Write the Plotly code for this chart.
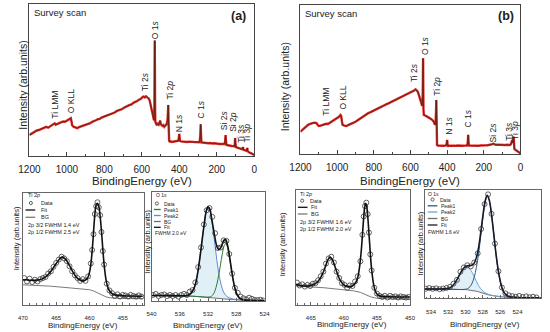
import plotly.graph_objects as go

W, H = 550, 332
FONT = "Arial, Liberation Sans, sans-serif"

# ---------------- DATA ----------------
# Survey scan (a)
survey_a_be = [1200,1190,1180,1170,1160,1150,1140,1130,1120,1110,1100,1090,1080,1070,1065,1060,1050,1040,1030,1020,1010,1000,992,985,979,975,972,965,955,945,935,925,915,905,895,885,875,865,855,845,835,825,815,805,795,785,775,765,755,745,735,725,715,705,695,685,675,665,655,645,635,625,615,605,595,590,585,578,570,563,558,553,548,543,538,535,533,532,531,530,529,528,525,520,515,510,505,502,499,495,490,485,480,475,470,466,463,461,460,459,458,457,456,455,454,450,445,440,430,420,410,405,402,400,398,396,390,380,370,360,350,340,330,320,310,300,292,288,286,284,282,275,265,255,245,235,225,215,205,195,185,175,165,158,155,153,151,148,140,130,120,110,105,103,102,100,98,90,80,70,62,60,58,52,45,40,37,35,30,22,15,8,0]
survey_a_int = [13.8,14.6,15.5,15.9,16.8,17.1,17.6,18.5,18.9,19.2,18.6,19.6,20.0,21.0,21.5,20.6,21.2,21.8,22.1,22.7,22.5,23.2,23.9,24.4,24.9,22.5,20.2,19.3,18.6,18.3,19.0,19.4,19.9,20.0,20.6,21.0,21.6,22.5,22.8,23.5,24.2,24.4,25.3,25.8,26.0,26.4,27.3,27.6,28.4,28.6,29.5,29.9,30.4,30.9,31.8,32.2,33.0,33.6,34.0,35.0,35.4,36.2,37.0,37.6,38.9,39.1,38.6,39.3,38.4,37.8,36.5,34.0,31.2,28.0,25.2,23.5,30.0,55.0,75.9,58.0,30.0,22.5,21.0,20.3,21.2,20.6,22.2,23.3,21.0,20.4,19.8,20.3,19.2,19.9,20.5,21.8,23.5,27.0,31.0,33.6,27.0,20.4,15.0,11.5,9.9,9.4,9.6,9.2,9.5,9.4,9.8,10.0,12.5,14.5,11.5,9.9,9.6,9.4,9.6,9.2,9.4,9.1,9.3,9.2,9.0,8.9,9.0,13.0,20.9,14.0,9.0,8.8,8.6,8.7,8.4,8.5,8.2,8.4,8.0,8.1,7.9,8.0,7.8,7.9,10.0,13.8,10.0,7.3,7.0,6.8,6.6,6.5,6.3,9.0,11.8,8.0,5.8,5.4,4.9,4.6,4.3,5.9,4.2,3.9,3.5,3.4,5.3,3.2,2.6,2.0,1.4,1.0,0.7]

# Survey scan (b)
survey_b_be = [1200,1190,1180,1170,1160,1150,1140,1130,1120,1112,1105,1100,1090,1080,1070,1060,1050,1040,1030,1020,1010,1000,990,982,978,974,970,960,950,940,930,920,910,900,890,880,870,860,850,840,830,820,810,800,790,780,770,760,750,740,730,720,710,700,690,680,670,660,650,640,630,620,610,600,590,580,572,566,560,555,550,545,540,536,533,532,531,530,529,527,522,516,510,500,490,480,472,466,463,461,460,459,458,457,456,455,450,440,430,420,410,404,402,400,398,396,385,375,365,355,345,335,325,315,305,298,290,287,285,283,281,270,260,250,240,230,220,210,200,190,180,170,160,152,148,144,135,125,115,105,95,85,75,65,58,52,47,45,42,39,37,35,33,28,22,15,10,5,0]
survey_b_int = [15.0,16.2,17.5,18.6,19.4,20.1,20.6,20.9,21.0,20.6,19.3,18.8,19.0,19.5,19.9,20.3,20.1,20.9,21.6,22.3,23.0,24.0,25.0,26.2,25.5,22.0,19.5,19.0,18.8,19.4,19.8,20.3,21.0,21.7,22.6,23.4,24.2,25.1,26.2,26.5,27.4,27.9,28.6,29.1,29.8,30.3,30.9,31.6,32.2,32.6,33.5,34.0,34.6,35.1,35.9,36.3,37.1,37.7,38.5,38.9,39.6,40.1,40.6,41.1,41.8,42.6,43.4,42.5,41.8,40.0,38.2,36.2,34.0,32.2,40.0,52.0,64.2,45.0,30.0,26.2,26.0,25.4,25.0,24.4,23.6,22.8,21.5,19.5,21.0,24.2,30.0,36.2,28.0,19.5,10.0,6.0,5.6,5.4,5.6,5.5,5.7,5.9,7.5,9.4,7.0,5.4,5.5,5.4,5.6,5.5,5.7,5.5,5.6,5.5,5.6,5.5,5.8,8.5,12.8,8.0,5.6,5.6,5.5,5.7,5.6,5.5,5.7,5.6,5.6,5.8,5.9,6.0,6.2,6.6,6.9,6.5,6.2,6.3,6.1,6.0,6.1,6.0,6.2,6.0,6.0,6.5,8.5,9.4,7.5,8.5,11.6,8.0,3.4,2.8,2.2,1.8,1.5,1.0,0.5]

survey_labels = ["Ti LMM", "O KLL", "Ti 2<i>s</i>", "O 1<i>s</i>", "Ti 2<i>p</i>", "N 1<i>s</i>", "C 1<i>s</i>", "Si 2<i>s</i>", "Si 2<i>p</i>", "Ti 3<i>s</i>", "Ti 3<i>p</i>"]
survey_a_label_be = [1065, 974, 582, 528, 452, 401, 282, 160, 114, 72, 36]
survey_a_label_int = [33.6, 35.9, 48.7, 82.9, 43.4, 21.7, 30.9, 23.7, 22.4, 15.1, 15.1]
survey_b_labels = ["Ti LMM", "O KLL", "Ti 2<i>s</i>", "O 1<i>s</i>", "Ti 2<i>p</i>", "N 1<i>s</i>", "C 1<i>s</i>", "Si 2<i>s</i>", "Ti 3<i>s</i>", "Ti 3<i>p</i>"]
survey_b_label_be = [1061, 973, 580, 520, 457, 391, 289, 150, 66, 30]
survey_b_label_int = [35.1, 37.9, 54.4, 72.5, 45.6, 18.8, 24.2, 14.4, 15.1, 16.1]

# Ti 2p (a)
ti_a_data_be = [469.8,469.4,469.0,468.6,468.2,467.8,467.4,467.0,466.6,466.2,465.8,465.4,465.0,464.6,464.2,463.8,463.4,463.0,462.6,462.2,461.8,461.4,461.0,460.6,460.2,459.8,459.6,459.4,459.2,459.0,458.8,458.6,458.4,458.2,458.0,457.8,457.4,457.0,456.6,456.2,455.8,455.4,455.0,454.6,454.2,453.8,453.4,453.0,452.6,452.2]
ti_a_data_int = [24,21,23.5,20.5,22.5,21,23,24,25,28,30,34,37.5,40.5,43,41.5,39,34.5,30,26.5,24,21.5,23,21.5,25.5,37,49,63,81,88,91.5,87,80,65,48,36,19,13,10.5,8,9.5,7.5,9,8.5,7.5,9,8,7.5,8.5,7.5]
ti_a_fit_be = [470,469.5,469,468.5,468,467.5,467,466.5,466,465.5,465,464.5,464.2,464,463.5,463,462.5,462,461.5,461,460.5,460.2,460,459.8,459.6,459.4,459.2,459.0,458.8,458.6,458.4,458.2,458.0,457.8,457.5,457.2,456.8,456.3,455.5,455,454,452]
ti_a_fit_int = [22.5,22.5,22,22,22,22.5,23.5,25.5,28.5,32.5,37,41,42.5,42.5,40,35,29.5,25,22.5,21.5,22.5,25,29,36,48,64,80,89,90.5,88,79,66,50,36,22,15,11,9.2,8.5,8.3,8,7.8]
ti_a_bg_be = [470,468,466,464,462,461,460,459.5,459,458.5,458,457.5,457,456,455,452]
ti_a_bg_int = [18,17.5,16.8,15.8,14.8,14.3,13.6,12.8,11.5,9.8,8.3,7.2,6.5,6.0,5.8,5.6]

# Ti 2p (b)
ti_b_data_be = [467.1,466.7,466.3,465.9,465.5,465.1,464.7,464.3,463.9,463.5,463.1,462.7,462.3,461.9,461.5,461.1,460.7,460.3,459.9,459.5,459.1,458.7,458.3,457.9,457.5,457.2,457.0,456.8,456.6,456.4,456.2,456.0,455.8,455.4,455.0,454.6,454.2,453.8,453.4,453.0,452.6,452.2,451.8,451.4,451.0,450.6,450.2]
ti_b_data_int = [19.5,17,18,16,17.5,16.5,18.5,19,21.5,25,29,36,40.5,42,37,29,23.5,19,17.5,15,17,16.5,20.5,25,38,61,77,86,89,79,63,44,30,15,10,8,7,8,6.5,8,7,7.5,6.5,7.5,7,6.5,7]
ti_b_fit_be = [467.25,467,466.5,466,465.5,465,464.5,464,463.5,463,462.7,462.4,462.1,461.8,461.5,461.2,460.9,460.5,460,459.5,459,458.5,458,457.7,457.4,457.2,457.0,456.85,456.7,456.55,456.4,456.2,456.0,455.8,455.5,455.2,454.8,454.3,453,450]
ti_b_fit_int = [18,17.5,17,16.5,16.5,17,18,20,24,30,35,39.5,41.5,40,36,31,26,21,17.5,16,16,17.5,22,30,45,60,76,85,88.5,86,78,62,45,31,18,11.5,8.5,7.5,7.2,7]
ti_b_bg_be = [467.25,465,463,461,459.5,458.5,457.5,457,456.5,456,455.5,455,453,450]
ti_b_bg_int = [16.5,15.8,15,13.8,13,12.3,11,10,8.5,7.2,6.2,5.8,5.3,5]

# O 1s (a)
o_a_be = [540,539,538,537,536,535.5,535,534.5,534,533.75,533.5,533.25,533,532.75,532.5,532.25,532,531.75,531.5,531.25,531,530.75,530.5,530.25,530,529.75,529.5,529.25,529,528.75,528.5,528.25,528,527.75,527.5,527,526.5,526,525,524]
o_a_bg = [5,5,5,4.9,4.8,4.7,4.6,4.45,4.3,4.2,4.1,4.0,3.9,3.8,3.65,3.5,3.4,3.25,3.1,2.95,2.8,2.6,2.45,2.3,2.1,1.9,1.75,1.6,1.4,1.3,1.15,1.0,0.9,0.8,0.7,0.6,0.45,0.4,0.35,0.3]
o_a_peak2 = [5,5,5,4.9,4.8,4.8,5.1,6.5,11.5,16.5,24.5,35,47.5,60.5,72.5,82.5,86,83.5,74.5,63,50,37,26,17.5,11.5,7.5,5.2,3.8,2.9,2.3,1.9,1.6,1.4,1.2,1.1,0.9,0.7,0.6,0.45,0.35]
o_a_peak1 = [5,5,5,4.9,4.8,4.7,4.6,4.45,4.3,4.2,4.1,4.0,3.9,3.8,3.65,3.55,3.6,3.8,4.5,6.3,9.8,15.5,23.5,33,42.5,50,52.5,49,41,30.5,20.5,12.5,7,3.9,2.2,0.9,0.5,0.4,0.35,0.3]
o_a_fit = [5,5,5,4.9,4.8,4.8,5.1,6.5,11.5,16.5,24.5,35,47.5,60.5,72.5,82.6,86.2,84,75.9,66.4,57,49.9,47.1,48.2,51.9,55.6,56,51.2,42.5,31.5,21.3,13.1,7.5,4.3,2.6,1.2,0.75,0.6,0.45,0.35]
o_a_data_be = [539.8,539.4,539.0,538.6,538.2,537.8,537.4,537.0,536.6,536.2,535.8,535.4,535.0,534.6,534.2,533.8,533.4,533.0,532.6,532.2,531.8,531.4,531.0,530.6,530.2,529.8,529.4,529.0,528.6,528.2,527.8,527.4,527.0,526.6,526.2,525.8,525.4,525.0,524.6,524.2]
o_a_data_int = [5.5,6.5,4.5,5.5,6,4.5,5.5,4.5,5.5,4,5.5,6.5,5.5,8.5,10,17,31,49,70,83,85,77,62,48.5,49,55.5,55,43,25,12,7.5,4,2.5,1.5,3,2,1,0.8,1.2,0.5]

# O 1s (b)
o_b_be = [534.75,534,533,532.5,532,531.75,531.5,531.25,531,530.75,530.5,530.25,530,529.75,529.5,529.25,529,528.75,528.5,528.25,528,527.75,527.5,527.25,527,526.75,526.5,526.25,526,525.75,525.5,525,524,523,521.3]
o_b_bg = [8.6,8.6,8.5,8.5,8.4,8.4,8.3,8.3,8.2,8.2,8.1,8.1,8.0,7.8,7.6,7.3,7.0,6.5,6.0,5.2,4.5,4.0,3.5,3.0,2.5,2.2,1.9,1.7,1.5,1.3,1.1,0.8,0.6,0.5,0.5]
o_b_peak1 = [8.6,8.6,8.5,8.5,8.4,8.4,8.3,8.3,8.2,8.2,8.1,8.2,8.4,9.0,10.6,13.9,19.5,28.5,41,57,74,88,94.5,90,77,60,42,27,16,8.5,4.5,1.5,0.7,0.5,0.5]
o_b_peak2 = [8.6,8.6,8.6,8.7,9.2,10.0,11.6,14.0,17.2,21.0,24.6,27.4,29.0,28.8,27.0,24.0,20.0,15.6,11.8,8.8,6.6,5.2,4.2,3.4,2.8,2.4,2.1,1.9,1.7,1.5,1.3,1.0,0.7,0.5,0.5]
o_b_fit = [8.6,8.6,8.6,8.7,9.2,10.0,11.6,14.0,17.2,21.0,24.6,27.5,29.4,30.0,30.0,30.6,32.5,37.6,46.8,60.6,76.1,89.2,95.2,90.4,77.3,60.2,42.2,27.2,16.2,8.7,4.7,1.7,0.8,0.5,0.5]
o_b_data_be = [534.6,534.2,533.8,533.4,533.0,532.6,532.2,531.8,531.4,531.0,530.6,530.2,529.8,529.4,529.0,528.6,528.2,527.8,527.4,527.0,526.6,526.2,525.8,525.4,525.0,524.6,524.2,523.8,523.4,523.0,522.6,522.2,521.8]
o_b_data_int = [8.9,9.5,8.8,9.2,8.4,9.0,9.6,10.5,13.5,17.0,24.5,28.5,30.5,29.5,33.0,41.5,64.0,87.0,96.0,78.0,50.5,25.0,10.0,4.5,2.8,2.0,1.5,2.2,1.2,1.8,1.0,1.5,0.8]

# ---------------- FIGURE ----------------
def fx(p): return p / W
def fy(p): return 1 - p / H

fig = go.Figure()

BROWN = "#5e2410"
RED = "#e32626"

def add_survey(be, inten, ax):
    fig.add_trace(go.Scatter(x=be, y=inten, mode="lines", line=dict(color=RED, width=2.4),
                             xaxis="x" + ax, yaxis="y" + ax, hoverinfo="skip"))
    fig.add_trace(go.Scatter(x=be, y=inten, mode="lines", line=dict(color=BROWN, width=0.9),
                             xaxis="x" + ax, yaxis="y" + ax, hoverinfo="skip"))

add_survey(survey_a_be, survey_a_int, "")
add_survey(survey_b_be, survey_b_int, "2")

DATA_MK = dict(symbol="circle-open", size=5, color="#3a3a3a", line=dict(width=0.8, color="#3a3a3a"))

# Ti 2p (a)
fig.add_trace(go.Scatter(x=ti_a_bg_be, y=ti_a_bg_int, mode="lines", line=dict(color="#7a7a7a", width=1), xaxis="x3", yaxis="y3"))
fig.add_trace(go.Scatter(x=ti_a_data_be, y=ti_a_data_int, mode="markers", marker=DATA_MK, xaxis="x3", yaxis="y3"))
fig.add_trace(go.Scatter(x=ti_a_fit_be, y=ti_a_fit_int, mode="lines", line=dict(color="#111111", width=1.6, shape="spline"), xaxis="x3", yaxis="y3"))

# O 1s (a)
fig.add_trace(go.Scatter(x=o_a_be, y=o_a_bg, mode="lines", line=dict(color="#6e6e6e", width=1), xaxis="x4", yaxis="y4"))
fig.add_trace(go.Scatter(x=o_a_be, y=o_a_peak2, mode="lines", line=dict(color="#5b8bd8", width=1, shape="spline"),
                         fill="tonexty", fillcolor="rgba(200,228,240,0.55)", xaxis="x4", yaxis="y4"))
fig.add_trace(go.Scatter(x=o_a_be, y=o_a_peak1, mode="lines", line=dict(color="#2f7a35", width=1, shape="spline"), xaxis="x4", yaxis="y4"))
fig.add_trace(go.Scatter(x=o_a_data_be, y=o_a_data_int, mode="markers", marker=DATA_MK, xaxis="x4", yaxis="y4"))
fig.add_trace(go.Scatter(x=o_a_be, y=o_a_fit, mode="lines", line=dict(color="#111111", width=1.6, shape="spline"), xaxis="x4", yaxis="y4"))

# Ti 2p (b)
fig.add_trace(go.Scatter(x=ti_b_bg_be, y=ti_b_bg_int, mode="lines", line=dict(color="#7a7a7a", width=1), xaxis="x5", yaxis="y5"))
fig.add_trace(go.Scatter(x=ti_b_data_be, y=ti_b_data_int, mode="markers", marker=DATA_MK, xaxis="x5", yaxis="y5"))
fig.add_trace(go.Scatter(x=ti_b_fit_be, y=ti_b_fit_int, mode="lines", line=dict(color="#111111", width=1.6, shape="spline"), xaxis="x5", yaxis="y5"))

# O 1s (b)
fig.add_trace(go.Scatter(x=o_b_be, y=o_b_bg, mode="lines", line=dict(color="#6e6e6e", width=1), xaxis="x6", yaxis="y6"))
fig.add_trace(go.Scatter(x=o_b_be, y=o_b_peak2, mode="lines", line=dict(color="#6aa6dc", width=1, shape="spline"),
                         fill="tonexty", fillcolor="rgba(200,228,240,0.55)", xaxis="x6", yaxis="y6"))
fig.add_trace(go.Scatter(x=o_b_be, y=o_b_peak1, mode="lines", line=dict(color="#2c5a86", width=1, shape="spline"), xaxis="x6", yaxis="y6"))
fig.add_trace(go.Scatter(x=o_b_data_be, y=o_b_data_int, mode="markers", marker=DATA_MK, xaxis="x6", yaxis="y6"))
fig.add_trace(go.Scatter(x=o_b_be, y=o_b_fit, mode="lines", line=dict(color="#1a1a2a", width=1.6, shape="spline"), xaxis="x6", yaxis="y6"))

# ---------------- AXES ----------------
def xax(dom, rng, dtick, fs, minor_dtick, tickvals=None, lc="#444", ticklen=4, standoff=4):
    d = dict(domain=dom, range=rng, showline=True, mirror=True, linecolor=lc, linewidth=1,
             ticks="inside", ticklen=ticklen, tickcolor=lc, tickwidth=1, showgrid=False, zeroline=False,
             ticklabelstandoff=standoff,
             tickfont=dict(family=FONT, size=fs, color="#222"),
             minor=dict(dtick=minor_dtick, ticks="inside", ticklen=ticklen * 0.55, tickcolor=lc))
    if tickvals is not None:
        d["tickvals"] = tickvals
    else:
        d["dtick"] = dtick
    return d

def yax(dom, xa, lc="#444"):
    return dict(domain=dom, range=[0, 100], anchor=xa, showline=True, mirror=True, linecolor=lc,
                linewidth=1, showticklabels=False, ticks="", showgrid=False, zeroline=False)

def dom_x(a, b): return [fx(a), fx(b)]
def dom_y(top, bot): return [fy(bot), fy(top)]

layout = dict(
    width=W, height=H, autosize=False, margin=dict(l=0, r=0, t=0, b=0),
    paper_bgcolor="white", plot_bgcolor="white", showlegend=False,
    font=dict(family=FONT, color="#222"),
)
layout["xaxis"] = xax(dom_x(19, 251), [1200, 0], 200, 10, 100, ticklen=4, standoff=4) | dict(anchor="y")
layout["yaxis"] = yax(dom_y(4, 156), "x")
layout["xaxis2"] = xax(dom_x(298.7, 525.7), [1200, 0], 200, 10, 100, ticklen=4, standoff=4) | dict(anchor="y2")
layout["yaxis2"] = yax(dom_y(5, 154), "x2")
layout["xaxis3"] = xax(dom_x(12.3, 137.3), [470, 451.8], 5, 6, 1, lc="#666", ticklen=3, standoff=7) | dict(anchor="y3")
layout["yaxis3"] = yax(dom_y(192.7, 305), "x3", lc="#666")
layout["xaxis4"] = xax(dom_x(145, 261.7), [540, 524], 4, 6, 1, lc="#666", ticklen=3, standoff=7) | dict(anchor="y4")
layout["yaxis4"] = yax(dom_y(191.7, 301), "x4", lc="#666")
layout["xaxis5"] = xax(dom_x(294, 411.7), [467.25, 450], 5, 6, 1, lc="#666", ticklen=3, standoff=7) | dict(anchor="y5")
layout["yaxis5"] = yax(dom_y(190, 305), "x5", lc="#666")
layout["xaxis6"] = xax(dom_x(426.7, 546.7), [534.75, 521.3], 2, 6, 0.5, tickvals=[534, 532, 530, 528, 526, 524], lc="#666", ticklen=3, standoff=7) | dict(anchor="y6")
layout["yaxis6"] = yax(dom_y(190, 298.3), "x6", lc="#666")
fig.update_layout(**layout)

ann = []
shapes = []

def txt(x, y, s, size, xanchor="center", angle=0, bold=False, color="#222"):
    if bold:
        s = "<b>" + s + "</b>"
    ann.append(dict(x=fx(x), y=fy(y), xref="paper", yref="paper", text=s, showarrow=False,
                    xanchor=xanchor, yanchor="middle", textangle=angle,
                    font=dict(family=FONT, size=size, color=color)))

# peak labels in data coordinates
for lab, xv, yv in zip(survey_labels, survey_a_label_be, survey_a_label_int):
    ann.append(dict(x=xv, y=yv, xref="x", yref="y", text=lab, showarrow=False, textangle=-90,
                    font=dict(family=FONT, size=8.5, color="#222")))
for lab, xv, yv in zip(survey_b_labels, survey_b_label_be, survey_b_label_int):
    ann.append(dict(x=xv, y=yv, xref="x2", yref="y2", text=lab, showarrow=False, textangle=-90,
                    font=dict(family=FONT, size=8.5, color="#222")))

# survey titles
txt(22, 12, "Survey scan", 9.5, xanchor="left")
txt(301, 13, "Survey scan", 9.5, xanchor="left")
txt(235, 16, "(a)", 12.5, bold=True)
txt(510.5, 16, "(b)", 12.5, bold=True)
txt(12, 85, "Intensity (arb.units)", 10.5, angle=-90)
txt(283, 87, "Intensity (arb.units)", 10.5, angle=-90)
txt(135, 181, "BindingEnergy (eV)", 11.5)
txt(412, 181, "BindingEnergy (eV)", 11.5)

# bottom axis titles
for (xt, yt) in [(74, 325), (203, 325), (352, 324), (489, 324)]:
    txt(xt, yt, "BindingEnergy (eV)", 8)
for (xt, yt) in [(5.5, 238), (140, 242), (280, 244), (422.5, 243)]:
    txt(xt, yt, "Intensity (arb.units)", 7.5, angle=-90)

# ---- inset legends ----
def leg_line(x, y, color, w=1.3, L=10):
    shapes.append(dict(type="line", xref="paper", yref="paper", x0=fx(x), x1=fx(x + L), y0=fy(y), y1=fy(y),
                       line=dict(color=color, width=w)))

def leg_circle(x, y, r=1.6):
    shapes.append(dict(type="circle", xref="paper", yref="paper", x0=fx(x - r), x1=fx(x + r),
                       y0=fy(y + r), y1=fy(y - r), line=dict(color="#3a3a3a", width=0.8)))

LF = 5.5
# Ti 2p (a)
txt(15, 195, "Ti 2<i>p</i>", LF, xanchor="left")
leg_circle(20.5, 203); txt(29, 203, "Data", LF, xanchor="left")
leg_line(15, 210, "#111111"); txt(29, 210, "Fit", LF, xanchor="left")
leg_line(15, 217.3, "#7a7a7a"); txt(29, 217.3, "BG", LF, xanchor="left")
txt(15, 224.5, "2p 3/2 FWHM 1.4 eV", LF, xanchor="left")
txt(15, 231.7, "2p 1/2 FWHM 2.5 eV", LF, xanchor="left")

# O 1s (a)
LF2 = 5
txt(147.5, 195, "O 1<i>s</i>", LF2, xanchor="left")
leg_circle(150.5, 203.5); txt(155.5, 203.5, "Data", LF2, xanchor="left")
leg_line(147.5, 209.5, "#2f7a35", L=7); txt(155.5, 209.5, "Peak1", LF2, xanchor="left")
leg_line(147.5, 215.5, "#5b8bd8", L=7); txt(155.5, 215.5, "Peak2", LF2, xanchor="left")
leg_line(147.5, 221.5, "#6e6e6e", L=7); txt(155.5, 221.5, "BG", LF2, xanchor="left")
leg_line(147.5, 227.3, "#111111", L=7); txt(155.5, 227.3, "Fit", LF2, xanchor="left")
txt(146.5, 233.3, "FWHM 2.0 eV", LF2, xanchor="left")

# Ti 2p (b)
txt(296, 193.5, "Ti 2<i>p</i>", LF, xanchor="left")
leg_circle(300.5, 200.7); txt(306.5, 200.7, "Data", LF, xanchor="left")
leg_line(296, 207.3, "#111111"); txt(307.5, 207.3, "Fit", LF, xanchor="left")
leg_line(296, 214, "#7a7a7a"); txt(307.5, 214, "BG", LF, xanchor="left")
txt(296, 221.7, "2p 3/2 FWHM 1.6 eV", LF, xanchor="left")
txt(296, 229.3, "2p 1/2 FWHM 2.0 eV", LF, xanchor="left")

# O 1s (b)
txt(428.5, 194, "O 1<i>s</i>", LF2, xanchor="left")
leg_circle(435, 199.5); txt(440.5, 199.5, "Data", LF2, xanchor="left")
leg_line(430, 205.8, "#2c5a86", L=10); txt(442, 205.8, "Peak1", LF2, xanchor="left")
leg_line(430, 212, "#6aa6dc", L=10); txt(442, 212, "Peak2", LF2, xanchor="left")
leg_line(430, 218.5, "#6e6e6e", L=10); txt(442, 218.5, "BG", LF2, xanchor="left")
leg_line(430, 225, "#1a1a2a", L=10); txt(442, 225, "Fit", LF2, xanchor="left")
txt(428.5, 231.5, "FWHM 1.6 eV", LF2, xanchor="left")

fig.update_layout(annotations=ann, shapes=shapes)
fig.write_html("out.html", config={"displayModeBar": False, "staticPlot": True},
               post_script="document.body.style.margin='0';document.body.style.overflow='hidden';")
